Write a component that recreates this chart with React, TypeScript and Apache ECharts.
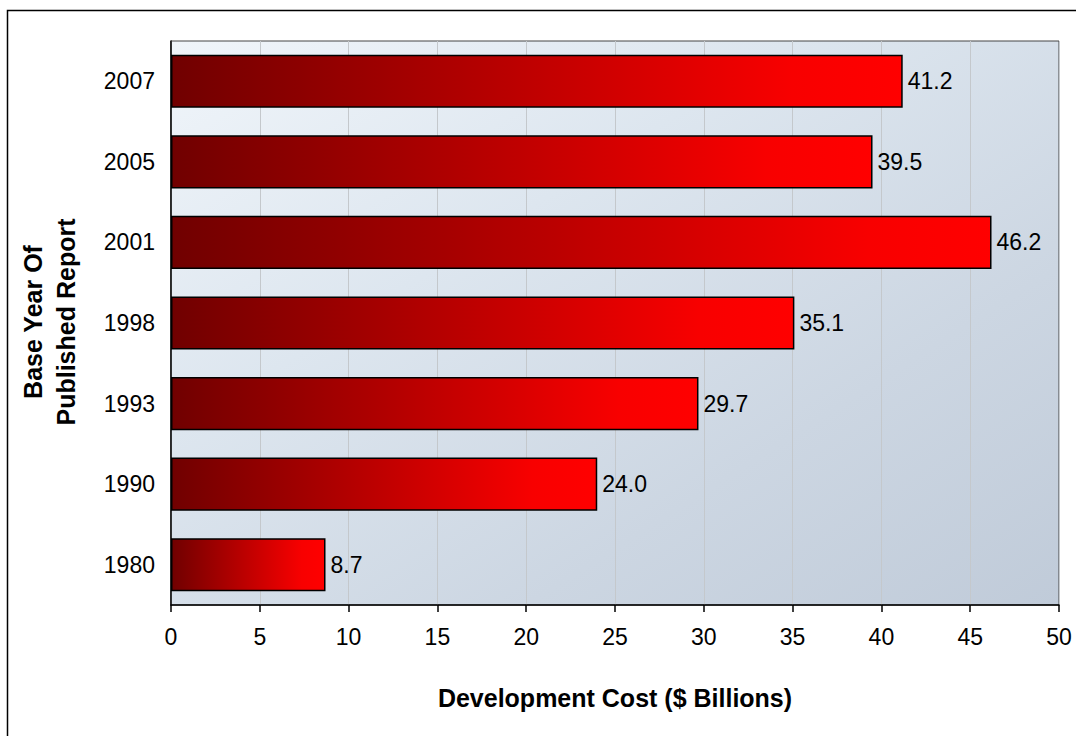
import React, { useEffect, useRef } from "react";
import * as echarts from "echarts";

const years = ["1980", "1990", "1993", "1998", "2001", "2005", "2007"];
const costs = [8.7, 24.0, 29.7, 35.1, 46.2, 39.5, 41.2];
const xTicks = { min: 0, max: 50, interval: 5 };
const xTitle = "Development Cost ($ Billions)";
const yTitle = "Base Year Of\nPublished Report";

export default function App() {
  const ref = useRef<HTMLDivElement>(null);
  useEffect(() => {
    if (!ref.current) return;
    const chart = echarts.init(ref.current, undefined, { renderer: "svg" });
    const font = "Liberation Sans, Arial, sans-serif";
    chart.setOption({
      animation: false,
      backgroundColor: "#ffffff",
      textStyle: { fontFamily: font },
      grid: {
        left: 171,
        right: 17,
        top: 41,
        bottom: 131,
        show: true,
        borderColor: "#444444",
        borderWidth: 1,
        backgroundColor: new echarts.graphic.LinearGradient(0, 0, 1, 1, [
          { offset: 0, color: "#f0f5fa" },
          { offset: 0.35, color: "#dde6ef" },
          { offset: 0.7, color: "#ccd6e2" },
          { offset: 1, color: "#c0cbd9" },
        ]),
      },
      graphic: [
        {
          type: "rect",
          shape: { x: 7.5, y: 10.5, width: 1200, height: 900 },
          style: { fill: "none", stroke: "#000000", lineWidth: 1.5 },
          silent: true,
          z: 100,
        },
        {
          type: "text",
          x: 49,
          y: 322,
          rotation: Math.PI / 2,
          style: {
            text: yTitle,
            fontSize: 25,
            fontWeight: "bold",
            fontFamily: font,
            fill: "#000000",
            align: "center",
            verticalAlign: "middle",
            lineHeight: 33,
          },
        },
      ],
      xAxis: {
        type: "value",
        min: xTicks.min,
        max: xTicks.max,
        interval: xTicks.interval,
        name: xTitle,
        nameLocation: "middle",
        nameGap: 80,
        nameTextStyle: { fontSize: 25, fontWeight: "bold", color: "#000", fontFamily: font },
        axisLine: { show: true, lineStyle: { color: "#000", width: 1.5 } },
        axisTick: { show: true, length: 7, lineStyle: { color: "#000", width: 1.5 } },
        axisLabel: { fontSize: 23, color: "#000", margin: 20, fontFamily: font },
        splitLine: { show: true, lineStyle: { color: "#c4c8cc", width: 1 } },
      },
      yAxis: {
        type: "category",
        data: years,
        axisLine: { show: true, lineStyle: { color: "#000", width: 1.5 } },
        axisTick: { show: false },
        axisLabel: { fontSize: 23, color: "#000", margin: 16, fontFamily: font },
        splitLine: { show: false },
      },
      series: [
        {
          type: "bar",
          data: costs,
          barCategoryGap: "34%",
          itemStyle: {
            color: new echarts.graphic.LinearGradient(0, 0, 1, 0, [
              { offset: 0, color: "#700000" },
              { offset: 0.45, color: "#b80000" },
              { offset: 0.85, color: "#f80000" },
              { offset: 1, color: "#ff0000" },
            ]),
            borderColor: "#000000",
            borderWidth: 1.5,
          },
          label: {
            show: true,
            position: "right",
            distance: 5,
            fontSize: 23,
            color: "#000",
            fontFamily: font,
            formatter: (p: any) => Number(p.value).toFixed(1),
          },
        },
      ],
    });
    return () => chart.dispose();
  }, []);
  return (
    <div
      ref={ref}
      style={{ position: "fixed", left: 0, top: 0, width: 1076, height: 736 }}
    />
  );
}
